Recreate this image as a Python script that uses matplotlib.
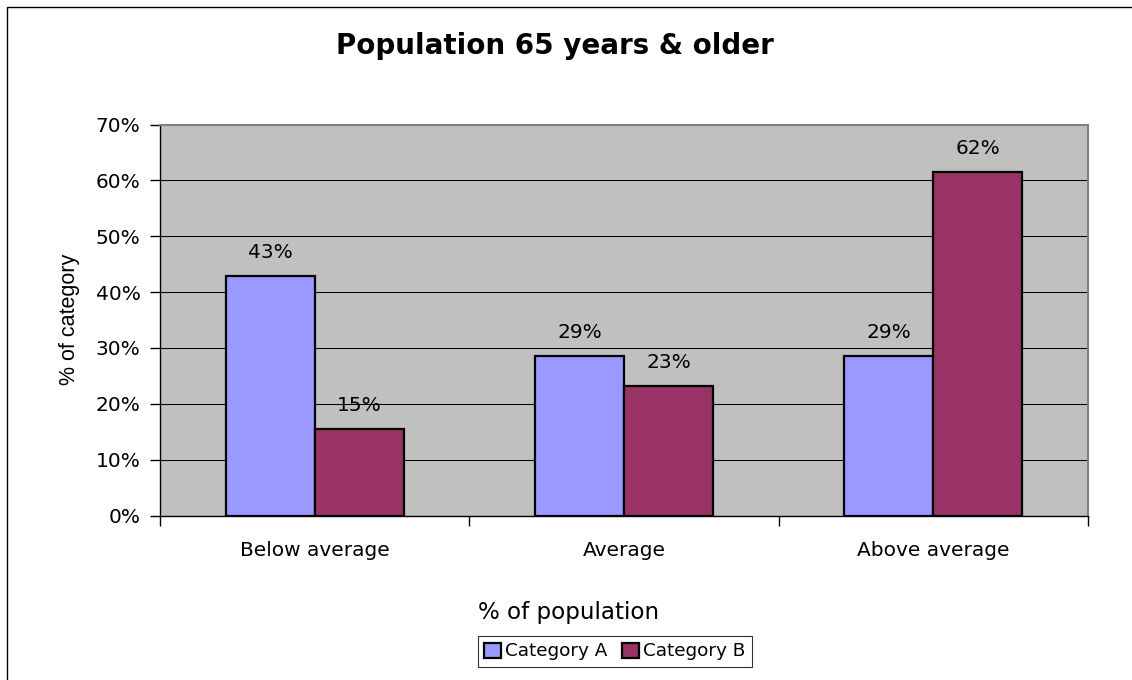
import matplotlib
matplotlib.use("Agg")
import matplotlib.pyplot as plt
from matplotlib.patches import Rectangle, Patch
from matplotlib.ticker import PercentFormatter, FixedLocator

categories = ["Below average", "Average", "Above average"]
series_names = ["Category A", "Category B"]
cat_a = [42.9, 28.6, 28.6]
cat_b = [15.4, 23.1, 61.5]
labels_a = ["43%", "29%", "29%"]
labels_b = ["15%", "23%", "62%"]

col_a = "#9999FF"
col_b = "#993366"

plt.rcParams["font.family"] = "DejaVu Sans"

W, H = 1132, 680
fig = plt.figure(figsize=(W / 100, H / 100), dpi=100)
fig.patch.set_facecolor("white")

# chart frame (left and top edges show)
fig.add_artist(Rectangle((7 / W, -0.1), 1.2, 1.1 - 7 / H, transform=fig.transFigure,
                         fill=False, edgecolor="black", linewidth=1.0))

ax = fig.add_axes([160 / W, 1 - 515.5 / H, (1088 - 160) / W, (515.5 - 124.5) / H])
ax.set_facecolor("#C0C0C0")

x = list(range(len(categories)))
bw = 0.288
xa = [i - bw / 2 for i in x]
xb = [i + bw / 2 for i in x]
bars_a = ax.bar(xa, cat_a, width=bw, color=col_a, edgecolor="black", linewidth=1.6, zorder=3)
bars_b = ax.bar(xb, cat_b, width=bw, color=col_b, edgecolor="black", linewidth=1.6, zorder=3)

for bars, labs in ((bars_a, labels_a), (bars_b, labels_b)):
    for b, lab in zip(bars, labs):
        ax.annotate(lab, (b.get_x() + b.get_width() / 2, b.get_height()),
                    xytext=(0, 17), textcoords="offset points", ha="center", va="center",
                    fontsize=14.5, color="black", zorder=4)

ax.set_xlim(-0.5, 2.5)
ax.set_ylim(0, 70)
ax.yaxis.set_major_locator(FixedLocator(range(0, 71, 10)))
ax.yaxis.set_major_formatter(PercentFormatter(decimals=0))
ax.grid(axis="y", color="black", linewidth=0.75, zorder=1)
ax.set_axisbelow(True)

# category boundaries get tick marks, names sit in the middle
ax.set_xticks([-0.5, 0.5, 1.5, 2.5])
ax.set_xticklabels([])
ax.set_xticks(x, minor=True)
ax.set_xticklabels(categories, minor=True)
ax.tick_params(axis="x", which="major", direction="out", length=7, width=1, color="black")
ax.tick_params(axis="x", which="minor", length=0, pad=18, labelsize=14.5)
ax.tick_params(axis="y", direction="out", length=7, width=1, pad=7, labelsize=14.5)

for side in ("top", "right"):
    ax.spines[side].set_color("#808080")
    ax.spines[side].set_linewidth(1.5)
for side in ("left", "bottom"):
    ax.spines[side].set_color("black")
    ax.spines[side].set_linewidth(1.0)

fig.text(70 / W, 1 - 319 / H, "% of category", rotation=90, ha="center", va="center",
         fontsize=15.5, family="Liberation Sans")
fig.text(555 / W, 1 - 46 / H, "Population 65 years & older", ha="center", va="center",
         fontsize=20, fontweight="bold")
fig.text(478 / W, 1 - 613 / H, "% of population", ha="left", va="center", fontsize=16.6)

handles = [Patch(facecolor=col_a, edgecolor="black", linewidth=1.6),
           Patch(facecolor=col_b, edgecolor="black", linewidth=1.6)]
leg = fig.legend(handles, series_names, loc="center", bbox_to_anchor=(615 / W, 1 - 651.5 / H),
                 ncol=2, fontsize=13.2, frameon=True, fancybox=False, shadow=False,
                 handlelength=0.9, handleheight=0.9, handletextpad=0.25, columnspacing=0.8,
                 borderpad=0.35, borderaxespad=0)
leg.get_frame().set_edgecolor("black")
leg.get_frame().set_linewidth(0.8)

fig.savefig("out.png", dpi=100, facecolor="white")
